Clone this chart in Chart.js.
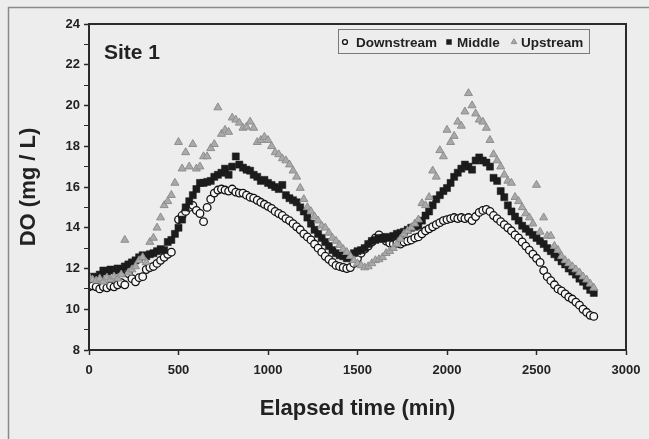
<!DOCTYPE html>
<html>
<head>
<meta charset="utf-8">
<script src="https://cdn.jsdelivr.net/npm/chart.js@4"></script>
<style>
  html, body { margin: 0; padding: 0; background: #ededed; }
  #wrap { width: 649px; height: 439px; }
</style>
</head>
<body>
<div id="wrap"><canvas id="doChart" width="649" height="439"></canvas></div>
<script>
// logger time stamps (min)
var times = [0,20,40,60,80,100,120,140,160,180,200,220,240,260,280,300,320,340,360,380,
  400,420,440,460,480,500,520,540,560,580,600,620,640,660,680,700,720,740,760,780,
  800,820,840,860,880,900,920,940,960,980,1000,1020,1040,1060,1080,1100,1120,1140,1160,1180,
  1200,1220,1240,1260,1280,1300,1320,1340,1360,1380,1400,1420,1440,1460,1480,1500,1520,1540,1560,1580,
  1600,1620,1640,1660,1680,1700,1720,1740,1760,1780,1800,1820,1840,1860,1880,1900,1920,1940,1960,1980,
  2000,2020,2040,2060,2080,2100,2120,2140,2160,2180,2200,2220,2240,2260,2280,2300,2320,2340,2360,2380,
  2400,2420,2440,2460,2480,2500,2520,2540,2560,2580,2600,2620,2640,2660,2680,2700,2720,2740,2760,2780,
  2800,2820];

// dissolved oxygen, mg/L
var downstream = [11.1,11.15,11.1,11.0,11.1,11.05,11.15,11.1,11.2,11.3,11.2,11.75,11.5,11.35,11.55,11.6,11.95,12.05,12.1,12.25,
  12.4,12.55,12.7,12.8,null,14.4,14.6,14.8,15.0,15.1,14.85,14.7,14.3,15.0,15.4,15.7,15.85,15.9,15.85,15.8,
  15.9,15.75,15.7,15.7,15.6,15.5,15.45,15.35,15.25,15.15,15.05,14.95,14.8,14.7,14.6,14.45,14.35,14.2,14.05,13.9,
  13.7,13.55,13.4,13.2,13.0,12.8,12.6,12.45,12.3,12.15,12.1,12.05,12.0,12.05,12.25,12.5,12.75,12.95,13.1,13.3,
  13.5,13.65,13.5,13.35,13.25,13.2,13.25,13.2,13.3,13.35,13.4,13.5,13.55,13.7,13.85,13.95,14.05,14.15,14.25,14.35,
  14.4,14.45,14.5,14.45,14.5,14.45,14.5,14.35,14.55,14.75,14.85,14.9,14.8,14.6,14.45,14.3,14.15,14.0,13.85,13.65,
  13.5,13.3,13.1,12.9,12.7,12.5,12.3,11.9,11.6,11.4,11.2,11.0,10.9,10.75,10.6,10.5,10.35,10.2,10.0,9.85,
  9.7,9.65];

var middle = [11.5,11.6,11.55,11.7,11.9,11.85,11.95,11.9,12.0,11.95,12.1,12.2,12.3,12.4,12.55,12.65,12.6,12.7,12.75,12.85,
  12.95,12.9,13.3,13.4,13.7,14.0,14.4,15.0,15.3,15.6,15.9,16.2,16.2,16.25,16.3,16.5,16.6,16.7,16.9,16.6,
  17.0,17.5,17.1,16.95,16.85,16.8,16.6,16.5,16.3,16.35,16.2,16.1,16.0,15.9,16.1,15.6,15.45,15.35,15.25,15.0,
  14.8,14.5,14.2,13.9,13.7,13.5,13.3,13.1,12.9,12.75,12.65,12.6,12.5,12.6,12.75,12.85,12.9,13.0,13.2,13.35,
  13.4,13.5,13.45,13.55,13.5,13.6,13.7,13.75,13.8,13.9,14.0,14.05,14.1,14.35,14.6,14.8,15.1,15.4,15.6,15.8,
  15.95,16.2,16.5,16.7,16.9,17.1,17.0,16.85,17.3,17.45,17.3,17.2,17.0,16.45,16.3,15.8,15.5,15.1,14.8,14.55,
  14.35,14.1,13.95,13.8,13.65,13.5,13.35,13.2,13.0,12.85,12.7,12.55,12.35,12.2,12.0,11.85,11.7,11.5,11.35,11.15,
  10.95,10.8];

var upstream = [11.6,11.45,11.4,11.5,11.35,11.55,11.45,11.6,11.5,11.7,13.4,11.8,11.95,12.1,12.4,12.55,12.3,13.3,13.5,14.0,
  14.5,15.1,15.3,15.6,16.2,18.2,16.9,17.7,17.0,18.1,16.9,17.0,17.5,17.5,17.9,18.1,19.9,18.6,18.8,18.7,
  19.4,19.3,19.15,18.9,18.95,19.2,18.9,18.2,18.3,18.45,18.3,18.0,17.7,17.6,17.4,17.3,17.1,16.8,16.5,15.95,
  15.4,15.0,14.8,14.55,14.35,14.1,14.0,13.75,13.5,13.35,13.15,12.95,12.8,12.6,12.4,12.25,12.15,12.05,12.1,12.25,
  12.4,12.45,12.55,12.75,12.85,13.0,13.2,13.45,13.7,13.85,14.0,14.2,14.4,15.2,15.1,15.5,16.8,16.5,17.8,17.5,
  18.8,18.2,18.5,19.2,19.0,19.7,20.6,20.0,19.6,19.3,19.2,18.9,18.3,17.6,17.3,17.0,16.6,16.3,16.2,15.5,
  15.3,15.0,14.7,14.5,14.2,16.1,13.8,14.5,13.6,13.6,13.1,12.9,12.6,12.4,12.25,12.1,11.95,11.8,11.6,11.45,
  11.25,11.05];

var seriesNames = ['Downstream', 'Middle', 'Upstream'];
var xTicks = [0, 500, 1000, 1500, 2000, 2500, 3000];

function toPoints(vals) {
  var pts = [];
  for (var i = 0; i < times.length; i++) {
    if (vals[i] !== null) pts.push({x: times[i], y: vals[i]});
  }
  return pts;
}

var FONT = "'Liberation Sans', Arial, sans-serif";

var markerStyles = [
  {pointStyle: 'circle', radius: 3.8, backgroundColor: '#f7f7f7', borderColor: '#111', borderWidth: 1.3},
  {pointStyle: 'rect', radius: 5, backgroundColor: '#1c1c1c', borderColor: '#1c1c1c', borderWidth: 0.5},
  {pointStyle: 'triangle', radius: 4.6, backgroundColor: '#a9a9a9', borderColor: '#8e8e8e', borderWidth: 1}
];

// frame, plot box, site label and boxed legend
var decor = {
  id: 'decor',
  beforeDraw: function (chart) {
    var ctx = chart.ctx;
    ctx.save();
    ctx.fillStyle = '#ededed';
    ctx.fillRect(0, 0, chart.width, chart.height);
    ctx.strokeStyle = '#8a8a8a';
    ctx.lineWidth = 1.5;
    ctx.beginPath();
    ctx.moveTo(8.5, chart.height);
    ctx.lineTo(8.5, 7.5);
    ctx.lineTo(chart.width, 7.5);
    ctx.stroke();
    ctx.restore();
  },
  afterDraw: function (chart) {
    var ctx = chart.ctx, a = chart.chartArea;
    ctx.save();
    ctx.strokeStyle = '#2a2a2a';
    ctx.lineWidth = 2;
    ctx.strokeRect(a.left, a.top, a.right - a.left, a.bottom - a.top);

    ctx.fillStyle = '#222';
    ctx.font = 'bold 21px ' + FONT;
    ctx.textBaseline = 'alphabetic';
    ctx.fillText('Site 1', 104, 59);

    // legend
    ctx.fillStyle = '#ededed';
    ctx.fillRect(338, 29, 251, 24);
    ctx.strokeStyle = '#7a7a7a';
    ctx.lineWidth = 1;
    ctx.strokeRect(338.5, 29.5, 251, 24);
    var items = [
      {mx: 345, tx: 356, scale: 0.65},
      {mx: 449, tx: 457, scale: 0.7},
      {mx: 514, tx: 521, scale: 0.7}
    ];
    ctx.font = 'bold 13.5px ' + FONT;
    for (var i = 0; i < items.length; i++) {
      var st = markerStyles[i];
      ctx.fillStyle = st.backgroundColor;
      ctx.strokeStyle = st.borderColor;
      ctx.lineWidth = st.borderWidth;
      Chart.helpers.drawPoint(ctx, {pointStyle: st.pointStyle, radius: st.radius * items[i].scale, rotation: 0, borderWidth: st.borderWidth}, items[i].mx, 42);
      ctx.fillStyle = '#222';
      ctx.fillText(seriesNames[i], items[i].tx, 46.5);
    }
    ctx.restore();
  }
};

var datasets = [downstream, middle, upstream].map(function (vals, i) {
  var st = markerStyles[i];
  return {
    label: seriesNames[i],
    data: toPoints(vals),
    showLine: false,
    pointStyle: st.pointStyle,
    pointRadius: st.radius,
    pointBackgroundColor: st.backgroundColor,
    pointBorderColor: st.borderColor,
    pointBorderWidth: st.borderWidth,
    order: 3 - i
  };
});

new Chart(document.getElementById('doChart'), {
  type: 'scatter',
  data: {datasets: datasets},
  plugins: [decor],
  options: {
    responsive: false,
    animation: false,
    layout: {padding: {left: 0, top: 24, right: 23, bottom: 0}},
    plugins: {legend: {display: false}, tooltip: {enabled: false}},
    scales: {
      x: {
        type: 'linear',
        min: 0, max: 3000,
        afterBuildTicks: function (scale) {
          scale.ticks = xTicks.map(function (v) { return {value: v}; });
        },
        afterFit: function (scale) { scale.height = 89; },
        grid: {display: true, drawOnChartArea: false, tickLength: 5, color: '#2a2a2a', tickWidth: 1.5},
        border: {display: true, color: '#2a2a2a', width: 2},
        ticks: {color: '#222', padding: 8, maxRotation: 0, font: {family: FONT, size: 13, weight: 'bold'},
          callback: function (v) { return String(v); }},
        title: {display: true, text: 'Elapsed time (min)', color: '#222', padding: {top: 0, bottom: 17},
          font: {family: FONT, size: 22, weight: 'bold'}}
      },
      y: {
        min: 8, max: 24,
        afterFit: function (scale) { scale.width = 89; },
        grid: {display: true, drawOnChartArea: false, tickLength: 5, color: '#2a2a2a',
          tickWidth: function (c) { return c.tick && c.tick.value % 2 === 0 ? 1.5 : 1; }},
        border: {display: true, color: '#2a2a2a', width: 2},
        ticks: {stepSize: 1, color: '#222', padding: 4, font: {family: FONT, size: 13, weight: 'bold'},
          callback: function (v) { return v % 2 === 0 ? String(v) : ''; }},
        title: {display: true, text: 'DO (mg / L)', color: '#222', padding: {top: 16, bottom: 0},
          font: {family: FONT, size: 22, weight: 'bold'}}
      }
    }
  }
});
</script>
</body>
</html>
